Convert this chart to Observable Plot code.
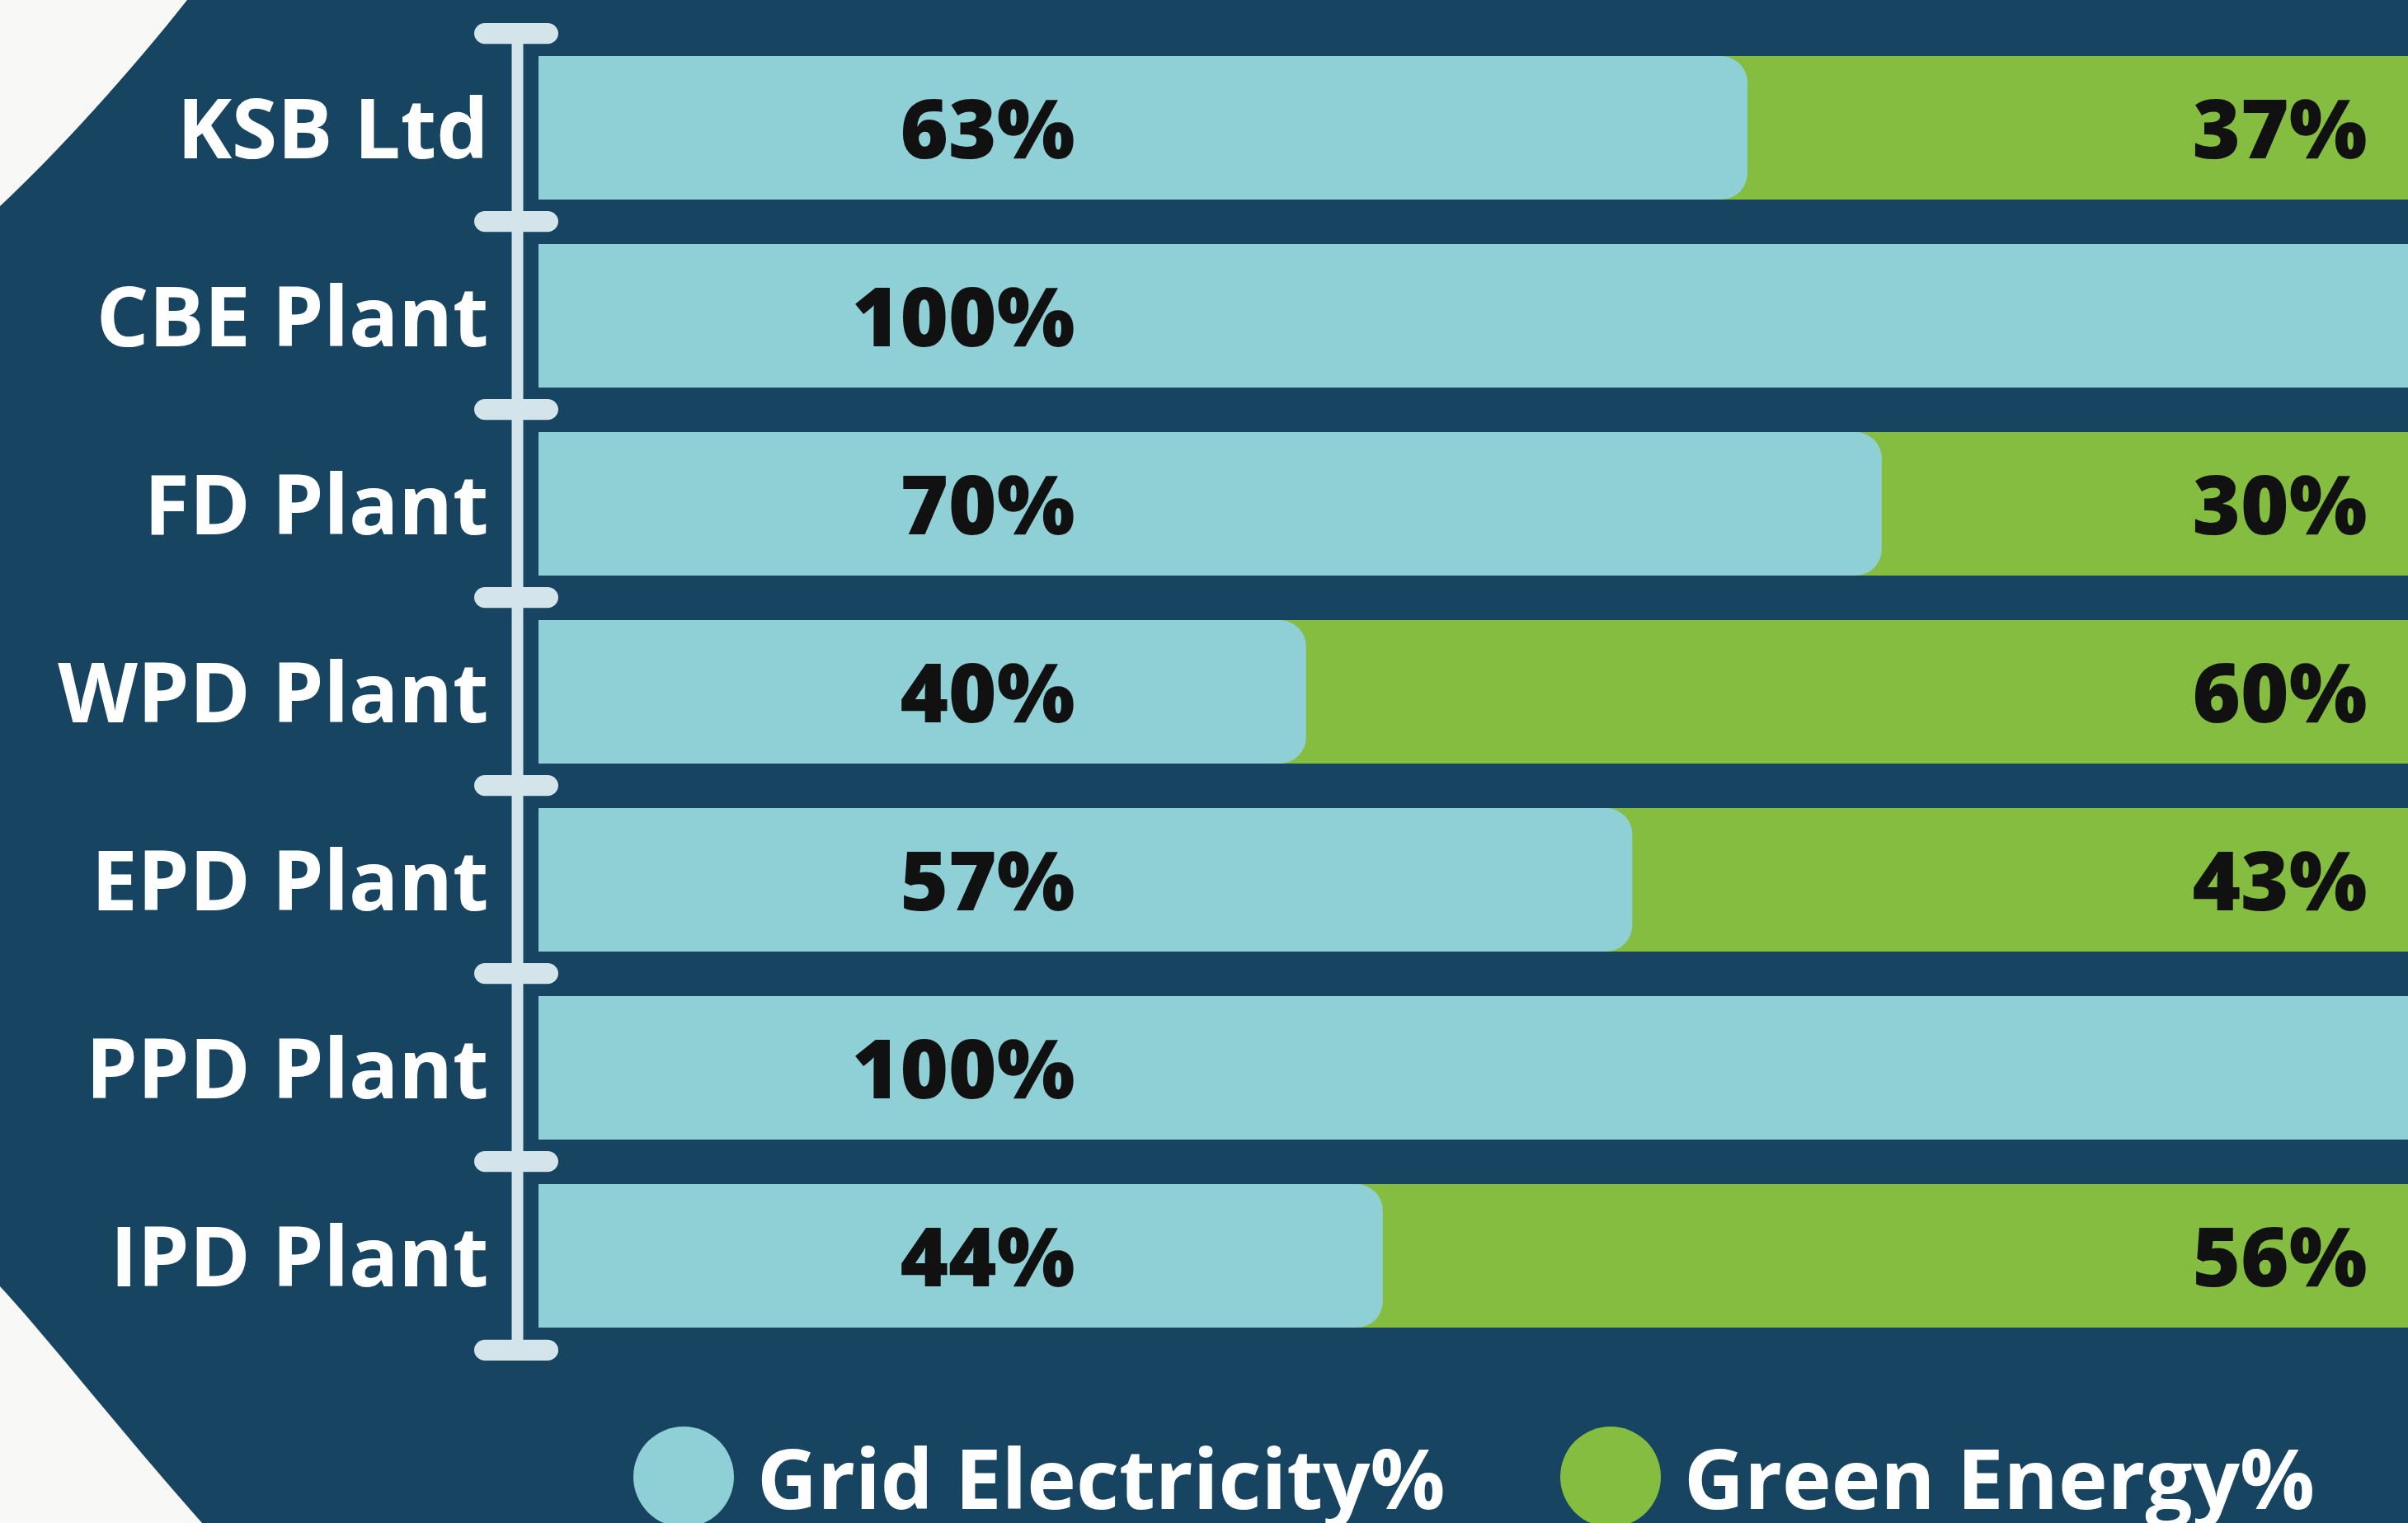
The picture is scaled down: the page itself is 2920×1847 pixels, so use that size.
<!DOCTYPE html>
<html>
<head>
<meta charset="utf-8">
<script src="https://cdn.jsdelivr.net/npm/d3@7"></script>
<script src="https://cdn.jsdelivr.net/npm/@observablehq/plot@0.6"></script>
<style>
  html, body { margin: 0; padding: 0; overflow: hidden; background: #f8f8f6; }
  #stage { position: relative; width: 2920px; height: 1847px; overflow: hidden; font-family: "Open Sans", "Noto Sans", sans-serif; }
  #bg { position: absolute; left: 0; top: 0; }
  #chart { position: absolute; left: 0; top: 0; width: 2920px; }
  #legend { position: absolute; left: 0; top: 1730px; width: 2920px; height: 122px; }
  .item { position: absolute; top: 0; height: 122px; display: flex; align-items: center; }
  .dot { width: 122px; height: 122px; border-radius: 50%; flex: none; }
  .lab { margin-left: 28px; color: #ffffff; font-size: 101px; font-weight: 700; line-height: 1; white-space: nowrap; }
</style>
</head>
<body>
<div id="stage">
  <svg id="bg" width="2920" height="1847">
    <path d="M227,0 C160,85 70,185 0,250 L-80,900 L0,1560 C60,1625 150,1740 245,1847 L2920,1847 L2920,0 Z" fill="#174561"/>
  </svg>
  <div id="chart"></div>
  <div id="legend"></div>
</div>
<script>
const categories = ["KSB Ltd", "CBE Plant", "FD Plant", "WPD Plant", "EPD Plant", "PPD Plant", "IPD Plant"];
const gridPct = [63, 100, 70, 40, 57, 100, 44];
const greenPct = [37, 0, 30, 60, 43, 0, 56];
const seriesNames = ["Grid Electricity%", "Green Energy%"];
const seriesColors = ["#8fd0d6", "#84bd3f"];

const rows = categories.map((c, i) => ({plant: c, grid: gridPct[i], green: greenPct[i]}));

const W = 2920, H = 1700, mTop = 38, mBottom = 60, mLeft = 653;
const step = (H - mTop - mBottom) / categories.length;
const capH = 26;
const barInset = 27;
const axisColor = "#d4e4eb";

const chart = Plot.plot({
  width: W,
  height: H,
  marginTop: mTop,
  marginBottom: mBottom,
  marginLeft: mLeft,
  marginRight: 0,
  style: {background: "transparent", fontFamily: "'Open Sans', 'Noto Sans', sans-serif", overflow: "visible"},
  x: {domain: [0, 100], range: [mLeft, 2980], axis: null},
  y: {domain: categories, padding: 0, axis: null},
  marks: [
    // green energy (underneath, full width)
    Plot.barX(rows, {x1: 0, x2: 100, y: "plant", fill: seriesColors[1], insetTop: barInset, insetBottom: barInset}),
    // grid electricity with rounded end
    Plot.barX(rows, {x1: 0, x2: "grid", y: "plant", fill: seriesColors[0], insetTop: barInset, insetBottom: barInset, rx: 32}),
    // square the left side of grid bars
    Plot.barX(rows, {x1: 0, x2: "grid", y: "plant", fill: seriesColors[0], insetTop: barInset, insetBottom: barInset, insetRight: 40}),
    // axis line
    Plot.ruleX([0], {dx: -26, stroke: axisColor, strokeWidth: 14}),
    // caps at band tops
    Plot.barX(categories, {x1: 0, x2: 0, y: d => d, fill: axisColor, insetLeft: -78, insetRight: -24,
      insetTop: -capH / 2, insetBottom: step - capH / 2, rx: 13}),
    // cap at the bottom of last band
    Plot.barX(categories.slice(-1), {x1: 0, x2: 0, y: d => d, fill: axisColor, insetLeft: -78, insetRight: -24,
      insetTop: step - capH / 2, insetBottom: -capH / 2, rx: 13}),
    // category labels
    Plot.text(categories, {y: d => d, frameAnchor: "left", dx: -61, textAnchor: "end", fill: "#ffffff",
      fontSize: 100, fontWeight: 700, dy: 4}),
    // grid labels
    Plot.text(rows, {y: "plant", text: d => d.grid + "%", frameAnchor: "left", dx: 650, textAnchor: "end",
      fill: "#111111", fontSize: 100, fontWeight: 800, dy: 4}),
    // green labels
    Plot.text(rows.filter(d => d.green > 0), {y: "plant", text: d => d.green + "%", frameAnchor: "right", dx: -50,
      textAnchor: "end", fill: "#111111", fontSize: 100, fontWeight: 800, dy: 4})
  ]
});
document.getElementById("chart").appendChild(chart);

const legend = document.getElementById("legend");
const lefts = [768, 1892];
seriesNames.forEach((name, i) => {
  const item = document.createElement("div");
  item.className = "item";
  item.style.left = lefts[i] + "px";
  const dot = document.createElement("span");
  dot.className = "dot";
  dot.style.background = seriesColors[i];
  const lab = document.createElement("span");
  lab.className = "lab";
  lab.textContent = name;
  item.appendChild(dot);
  item.appendChild(lab);
  legend.appendChild(item);
});
</script>
</body>
</html>
